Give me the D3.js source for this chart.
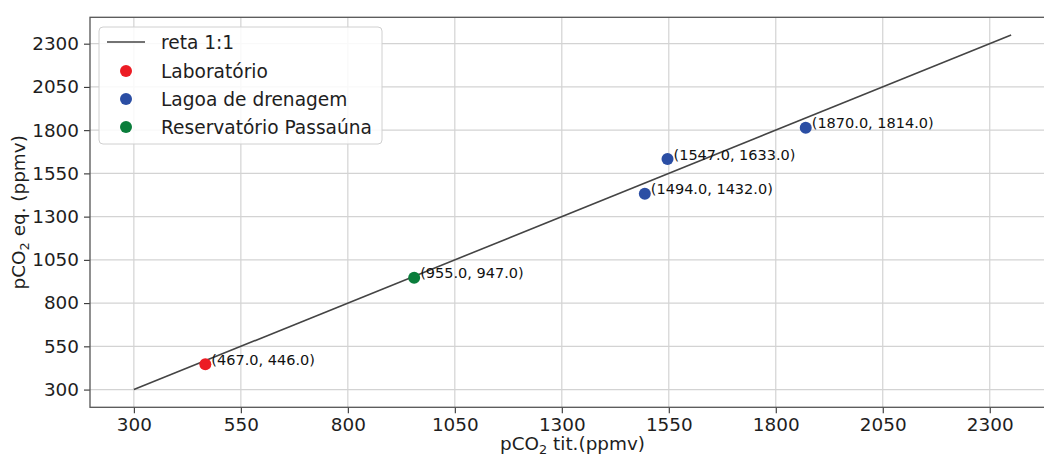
<!DOCTYPE html>
<html>
<head>
<meta charset="utf-8">
<script src="https://cdn.jsdelivr.net/npm/d3@7"></script>
<style>
  body { margin: 0; background: #fff; }
  svg { display: block; font-family: 'DejaVu Sans', sans-serif; }
</style>
</head>
<body>
<svg width="1044" height="457"></svg>
<script>
// Data
const pointX = [467, 1547, 1494, 1870, 955];
const pointY = [446, 1633, 1432, 1814, 947];
const pointGroup = ['Laboratório', 'Lagoa de drenagem', 'Lagoa de drenagem', 'Lagoa de drenagem', 'Reservatório Passaúna'];
const groups = ['Laboratório', 'Lagoa de drenagem', 'Reservatório Passaúna'];
const groupColors = ['#ec1c24', '#2b4ea4', '#0a7d3b'];
const lineEnds = [300, 2350];
const ticks = [300, 550, 800, 1050, 1300, 1550, 1800, 2050, 2300];

const svg = d3.select('svg');
const plotLeft = 90;
const plotRight = 1055;
const plotTop = 17.3;
const plotBottom = 407.3;

const x = d3.scaleLinear().domain([197.5, 2452.5]).range([plotLeft, plotRight]);
const y = d3.scaleLinear().domain([197.5, 2452.5]).range([plotBottom, plotTop]);
const color = d3.scaleOrdinal().domain(groups).range(groupColors);

// Grid
svg.append('g')
  .selectAll('line')
  .data(ticks)
  .join('line')
  .attr('x1', (d) => x(d)).attr('x2', (d) => x(d))
  .attr('y1', plotTop).attr('y2', plotBottom)
  .attr('stroke', '#d3d3d3').attr('stroke-width', 1.2);

svg.append('g')
  .selectAll('line')
  .data(ticks)
  .join('line')
  .attr('x1', plotLeft).attr('x2', plotRight)
  .attr('y1', (d) => y(d)).attr('y2', (d) => y(d))
  .attr('stroke', '#d3d3d3').attr('stroke-width', 1.2);

// Axes
const xAxis = svg.append('g')
  .attr('transform', `translate(0, ${plotBottom})`)
  .call(d3.axisBottom(x).tickValues(ticks).tickSize(6).tickPadding(5).tickFormat(d3.format('d')));
const yAxis = svg.append('g')
  .attr('transform', `translate(${plotLeft}, 0)`)
  .call(d3.axisLeft(y).tickValues(ticks).tickSize(6).tickPadding(5).tickFormat(d3.format('d')));

[xAxis, yAxis].forEach((g) => {
  g.select('.domain').remove();
  g.selectAll('.tick line').attr('stroke', '#333').attr('stroke-width', 1.1);
  g.selectAll('.tick text')
    .attr('fill', '#1e1e1e')
    .style('font-size', '18.4px')
    .style('font-family', "'DejaVu Sans', sans-serif");
});

// Spines
svg.append('rect')
  .attr('x', plotLeft).attr('y', plotTop)
  .attr('width', plotRight - plotLeft).attr('height', plotBottom - plotTop)
  .attr('fill', 'none').attr('stroke', '#555').attr('stroke-width', 1.3);

// 1:1 line
svg.append('line')
  .attr('x1', x(lineEnds[0])).attr('y1', y(lineEnds[0]))
  .attr('x2', x(lineEnds[1])).attr('y2', y(lineEnds[1]))
  .attr('stroke', '#444').attr('stroke-width', 1.6);

// Points
svg.append('g')
  .selectAll('circle')
  .data(pointX)
  .join('circle')
  .attr('cx', (d) => x(d))
  .attr('cy', (d, i) => y(pointY[i]))
  .attr('r', 6)
  .attr('fill', (d, i) => color(pointGroup[i]));

// Annotations
svg.append('g')
  .selectAll('text')
  .data(pointX)
  .join('text')
  .attr('x', (d) => x(d) + 6)
  .attr('y', (d, i) => y(pointY[i]) - 3.5)
  .attr('dominant-baseline', 'middle')
  .attr('fill', '#111')
  .style('font-size', '14.5px')
  .text((d, i) => `(${d.toFixed(1)}, ${pointY[i].toFixed(1)})`);

// Axis labels
const xLabel = svg.append('text')
  .attr('x', (plotLeft + plotRight) / 2)
  .attr('y', 450)
  .attr('text-anchor', 'middle')
  .attr('fill', '#1e1e1e')
  .style('font-size', '18.4px');
xLabel.append('tspan').text('pCO');
xLabel.append('tspan').attr('dy', 4).style('font-size', '12.9px').text('2');
xLabel.append('tspan').attr('dy', -4).text(' tit.(ppmv)');

const yLabel = svg.append('text')
  .attr('transform', 'rotate(-90)')
  .attr('x', -(plotTop + plotBottom) / 2)
  .attr('y', 25)
  .attr('text-anchor', 'middle')
  .attr('fill', '#1e1e1e')
  .style('font-size', '18.4px');
yLabel.append('tspan').text('pCO');
yLabel.append('tspan').attr('dy', 4).style('font-size', '12.9px').text('2');
yLabel.append('tspan').attr('dy', -4).text(' eq. (ppmv)');

// Legend
const legend = svg.append('g').attr('transform', 'translate(99, 27)');
legend.append('rect')
  .attr('width', 283).attr('height', 117)
  .attr('rx', 4)
  .attr('fill', '#fff').attr('fill-opacity', 0.85)
  .attr('stroke', '#d0d0d0');

legend.append('line')
  .attr('x1', 8).attr('x2', 46)
  .attr('y1', 15).attr('y2', 15)
  .attr('stroke', '#444').attr('stroke-width', 1.6);
legend.append('text')
  .attr('x', 62).attr('y', 15)
  .attr('dominant-baseline', 'central')
  .attr('fill', '#1e1e1e')
  .style('font-size', '18.6px')
  .text('reta 1:1');

groups.forEach((g, i) => {
  const cy = 44 + i * 28;
  legend.append('circle')
    .attr('cx', 27).attr('cy', cy).attr('r', 6)
    .attr('fill', color(g));
  legend.append('text')
    .attr('x', 62).attr('y', cy)
    .attr('dominant-baseline', 'central')
    .attr('fill', '#1e1e1e')
    .style('font-size', '18.6px')
    .text(g);
});
</script>
</body>
</html>
